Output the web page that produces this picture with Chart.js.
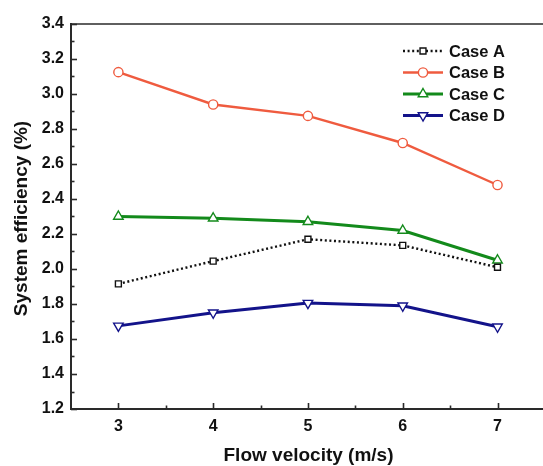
<!DOCTYPE html>
<html><head><meta charset="utf-8">
<script src="https://cdn.jsdelivr.net/npm/chart.js@4/dist/chart.umd.min.js"></script>
<style>html,body{margin:0;padding:0;background:#fff}#wrap{width:543px;height:466px;position:relative}</style>
</head><body><div id="wrap"><canvas id="c" width="543" height="466"></canvas></div>
<script>
const velocities = [3, 4, 5, 6, 7];
const caseA = [1.915, 2.045, 2.17, 2.135, 2.01];
const caseB = [3.125, 2.94, 2.875, 2.72, 2.48];
const caseC = [2.30, 2.29, 2.27, 2.22, 2.05];
const caseD = [1.675, 1.75, 1.805, 1.79, 1.67];
const seriesNames = ['Case A', 'Case B', 'Case C', 'Case D'];
const xTitle = 'Flow velocity (m/s)';
const yTitle = 'System efficiency (%)';

const FONT = '"Liberation Sans", Arial, sans-serif';
const pts = arr => arr.map((v, i) => ({x: velocities[i], y: v}));

const styles = [
  {color: '#111111', width: 2.4, dash: [2, 2.6], point: 'rect', rot: 0, r: 4.2},
  {color: '#ef5b3f', width: 2.4, dash: [], point: 'circle', rot: 0, r: 4.6},
  {color: '#138a1b', width: 3, dash: [], point: 'triangle', rot: 0, r: 5.5},
  {color: '#13138a', width: 3, dash: [], point: 'triangle', rot: 180, r: 5.5}
];
const allData = [caseA, caseB, caseC, caseD];

const datasets = allData.map((d, i) => ({
  label: seriesNames[i],
  data: pts(d),
  borderColor: styles[i].color,
  borderWidth: styles[i].width,
  borderDash: styles[i].dash,
  pointStyle: styles[i].point,
  rotation: styles[i].rot,
  pointRadius: styles[i].r,
  pointBorderWidth: 1.4,
  pointBackgroundColor: '#ffffff',
  pointBorderColor: styles[i].color,
  tension: 0,
  fill: false
}));

const decor = {
  id: 'decor',
  afterDraw(chart) {
    const ctx = chart.ctx;
    const a = chart.chartArea;
    const xs = chart.scales.x, ys = chart.scales.y;
    ctx.save();
    ctx.strokeStyle = '#2a2a2a';
    ctx.lineWidth = 1.6;
    ctx.beginPath(); ctx.moveTo(a.left, a.top); ctx.lineTo(chart.width, a.top); ctx.stroke();
    for (let v = 1.2; v <= 3.4001; v += 0.1) {
      const y = Math.round(ys.getPixelForValue(v)) + 0.5;
      const major = Math.abs(Math.round(v * 5) - v * 5) < 1e-6;
      ctx.beginPath(); ctx.moveTo(a.left, y); ctx.lineTo(a.left + (major ? 6 : 3.5), y); ctx.stroke();
    }
    for (let v = 3; v <= 7.0001; v += 0.5) {
      const x = Math.round(xs.getPixelForValue(v)) + 0.5;
      const major = Math.abs(v - Math.round(v)) < 1e-6;
      ctx.beginPath(); ctx.moveTo(x, a.bottom); ctx.lineTo(x, a.bottom - (major ? 6 : 3.5)); ctx.stroke();
    }
    ctx.fillStyle = '#111';
    ctx.font = 'bold 19px ' + FONT;
    ctx.textAlign = 'center'; ctx.textBaseline = 'middle';
    ctx.fillText(xTitle, 308.5, 456);
    ctx.save();
    ctx.translate(22, 218.5);
    ctx.rotate(-Math.PI / 2);
    ctx.fillText(yTitle, 0, 0);
    ctx.restore();
    const ly = [51, 72.5, 94, 115.5];
    ctx.font = 'bold 16.5px ' + FONT;
    ctx.textAlign = 'left';
    styles.forEach((s, i) => {
      ctx.save();
      ctx.strokeStyle = s.color;
      ctx.lineWidth = s.width;
      ctx.setLineDash(s.dash);
      ctx.beginPath(); ctx.moveTo(403, ly[i]); ctx.lineTo(443, ly[i]); ctx.stroke();
      ctx.setLineDash([]);
      ctx.fillStyle = '#fff';
      ctx.lineWidth = 1.4;
      Chart.helpers.drawPoint(ctx, {pointStyle: s.point, rotation: s.rot, radius: s.r, borderWidth: 1.4}, 423, ly[i]);
      ctx.restore();
      ctx.fillStyle = '#111';
      ctx.fillText(seriesNames[i], 449, ly[i] + 1);
    });
    ctx.restore();
  }
};

new Chart(document.getElementById('c'), {
  type: 'line',
  data: {datasets},
  plugins: [decor],
  options: {
    responsive: false,
    animation: false,
    layout: {autoPadding: false, padding: {top: 24, right: 0, left: 0, bottom: 0}},
    plugins: {legend: {display: false}, tooltip: {enabled: false}},
    scales: {
      x: {
        type: 'linear', min: 2.5, max: 7.48,
        afterBuildTicks: s => { s.ticks = velocities.map(v => ({value: v})); },
        afterFit: s => { s.height = 57; s.paddingLeft = 0; s.paddingRight = 0; },
        grid: {display: false, drawTicks: false},
        border: {display: true, color: '#2a2a2a', width: 2},
        ticks: {padding: 8, color: '#111', font: {family: FONT, size: 16, weight: 'bold'}, callback: v => String(v), maxRotation: 0}
      },
      y: {
        type: 'linear', min: 1.2, max: 3.4,
        ticks: {stepSize: 0.2, padding: 7, color: '#111', font: {family: FONT, size: 16, weight: 'bold'}, callback: v => Number(v).toFixed(1)},
        afterFit: s => { s.width = 71; s.paddingLeft = 0; s.paddingRight = 0; },
        grid: {display: false, drawTicks: false},
        border: {display: true, color: '#2a2a2a', width: 2}
      }
    }
  }
});
</script></body></html>
